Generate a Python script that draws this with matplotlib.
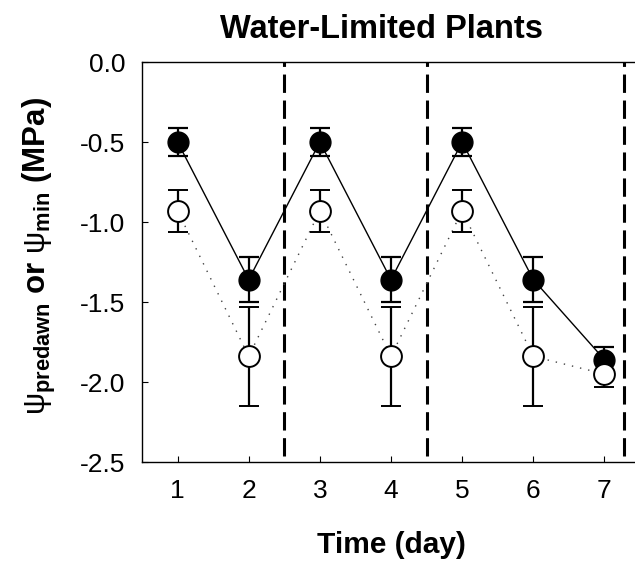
import matplotlib.pyplot as plt

plt.rcParams['font.family'] = ['Liberation Sans', 'DejaVu Sans']
plt.rcParams['mathtext.fontset'] = 'custom'
plt.rcParams['mathtext.rm'] = 'Liberation Sans'
plt.rcParams['mathtext.it'] = 'Liberation Sans'
plt.rcParams['mathtext.bf'] = 'Liberation Sans:bold'

days = [1, 2, 3, 4, 5, 6, 7]
# predawn water potential (filled) and minimum (open), MPa
predawn = [-0.50, -1.36, -0.50, -1.36, -0.50, -1.36, -1.86]
predawn_err = [0.09, 0.14, 0.09, 0.14, 0.09, 0.14, 0.08]
minimum = [-0.93, -1.84, -0.93, -1.84, -0.93, -1.84, -1.95]
minimum_err = [0.13, 0.31, 0.13, 0.31, 0.13, 0.31, 0.08]
watering = [2.5, 4.5, 7.27]

fig = plt.figure(figsize=(6.35, 5.69), dpi=100)
ax = fig.add_axes([142 / 635, 107 / 569, 498 / 635, 400 / 569])

for x in watering:
    ax.vlines(x, -2.46, 0, colors='black', linewidth=2.2,
              linestyles=(0, (6, 2.5)), zorder=1)

ax.plot(days, predawn, color='black', linewidth=1, zorder=2)
ax.plot(days, minimum, color='#444444', linewidth=1,
        linestyle=(0, (1, 5)), zorder=2)

ax.errorbar(days, predawn, yerr=predawn_err, fmt='o', color='black',
            markersize=15, markerfacecolor='black', markeredgecolor='black',
            ecolor='black', elinewidth=1.6, capsize=7.5, capthick=1.6, zorder=3)
ax.errorbar(days, minimum, yerr=minimum_err, fmt='o', color='black',
            markersize=15, markerfacecolor='white', markeredgecolor='black',
            markeredgewidth=1.4, ecolor='black', elinewidth=1.6, capsize=7.5,
            capthick=1.6, zorder=4)

ax.set_xlim(0.5, 7.5)
ax.set_ylim(-2.5, 0)
ax.set_xticks(days)
ax.set_yticks([0, -0.5, -1.0, -1.5, -2.0, -2.5])
ax.set_yticklabels(['0.0', '-0.5', '-1.0', '-1.5', '-2.0', '-2.5'])
ax.tick_params(direction='in', length=4, width=0.8, labelsize=19, pad=12)
for s in ax.spines.values():
    s.set_linewidth(1.0)

fig.text(382 / 635, 1 - 38 / 569, 'Water-Limited Plants', ha='center',
         va='baseline', fontsize=23.5, fontweight='bold')
fig.text(391 / 635, 1 - 553 / 569, 'Time (day)', ha='center', va='baseline',
         fontsize=21.5, fontweight='bold')
fig.text(39 / 635, 1 - 256 / 569,
         r'$\psi_{\mathbf{predawn}}$ or $\psi_{\mathbf{min}}$ (MPa)',
         ha='center', va='center', rotation=90, fontsize=22.5,
         fontweight='bold')

fig.savefig('out.png', dpi=100)
